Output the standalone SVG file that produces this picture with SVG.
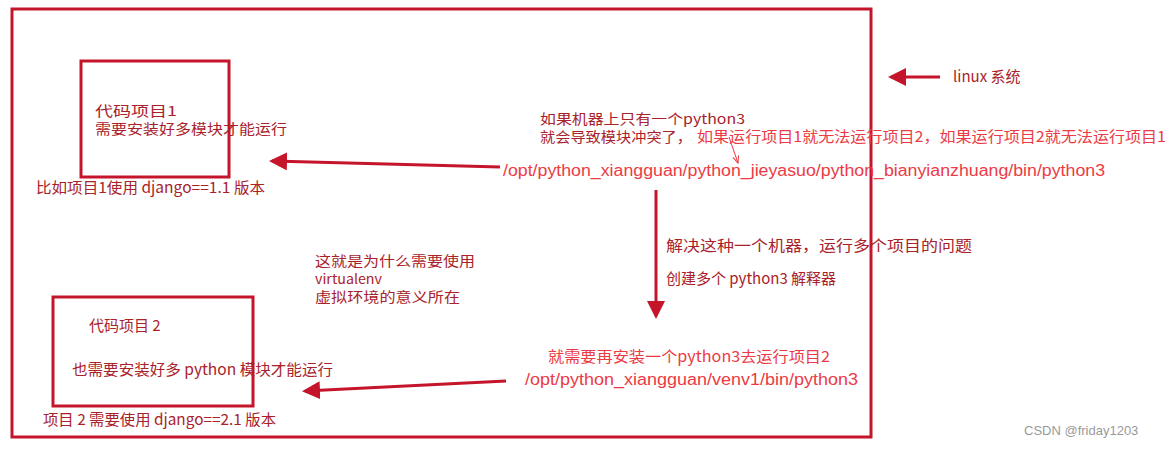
<svg xmlns="http://www.w3.org/2000/svg" width="1176" height="449" viewBox="0 0 1176 449">
<style>
.box{fill:none;stroke:#c4152b;stroke-width:3}
.t{font-family:"Noto Sans CJK SC","Liberation Sans",sans-serif;font-size:15px;fill:#a9222a}
.s{font-family:"Noto Sans CJK SC","Liberation Sans",sans-serif;font-size:13.5px;fill:#a9222a}
.r{font-family:"Liberation Sans","Noto Sans CJK SC",sans-serif;font-size:16px;fill:#ec3b44}
.rc{font-family:"Noto Sans CJK SC","Liberation Sans",sans-serif;font-size:15px;fill:#ec3b44}
.ln{stroke:#c4152b;stroke-width:3;fill:none}
.wm{font-family:"Liberation Sans",sans-serif;font-size:13px;fill:#9a9a9a}
</style>
<defs>
<marker id="ah" markerWidth="6" markerHeight="6" refX="5" refY="3" orient="auto" markerUnits="strokeWidth">
<path d="M0,0 L6,3 L0,6 Z" fill="#c4152b"/>
</marker>
<marker id="ahs" markerWidth="8" markerHeight="8" refX="7" refY="4" orient="auto" markerUnits="strokeWidth">
<path d="M0,1 L7,4 L0,7" fill="none" stroke="#ec3b44"/>
</marker>
</defs>
<rect x="0" y="0" width="1176" height="449" fill="#ffffff"/>
<g id="linux">
<rect class="box" x="12" y="9" width="859" height="428"/>
</g>
<g id="project1">
<rect class="box" x="81" y="61" width="148" height="116"/>
<text class="s" x="95" y="116" textLength="82" lengthAdjust="spacingAndGlyphs">代码项目1</text>
<text class="s" x="95" y="134" textLength="192" lengthAdjust="spacingAndGlyphs">需要安装好多模块才能运行</text>
<text class="t" x="36" y="193" textLength="229" lengthAdjust="spacingAndGlyphs">比如项目1使用 django==1.1 版本</text>
</g>
<g id="project2">
<rect class="box" x="53" y="297" width="200" height="109"/>
<text class="t" x="89" y="331">代码项目 2</text>
<text class="t" x="72" y="375" textLength="261" lengthAdjust="spacingAndGlyphs">也需要安装好多 python 模块才能运行</text>
<text class="t" x="43" y="425" textLength="233" lengthAdjust="spacingAndGlyphs">项目 2 需要使用 django==2.1 版本</text>
</g>
<g id="python3">
<text class="s" x="540" y="124" textLength="205" lengthAdjust="spacingAndGlyphs">如果机器上只有一个python3</text>
<text class="s" x="540" y="142" textLength="152" lengthAdjust="spacingAndGlyphs">就会导致模块冲突了，</text>
<text class="rc" x="697" y="142" textLength="469" lengthAdjust="spacingAndGlyphs">如果运行项目1就无法运行项目2，如果运行项目2就无法运行项目1</text>
<text class="r" x="503" y="176" textLength="602" lengthAdjust="spacingAndGlyphs">/opt/python_xiangguan/python_jieyasuo/python_bianyianzhuang/bin/python3</text>
</g>
<g id="venv1">
<text class="rc" x="548" y="362" textLength="282" lengthAdjust="spacingAndGlyphs">就需要再安装一个python3去运行项目2</text>
<text class="r" x="525" y="385" textLength="333" lengthAdjust="spacingAndGlyphs">/opt/python_xiangguan/venv1/bin/python3</text>
</g>
<g id="solve">
<text class="t" x="666" y="251" textLength="306" lengthAdjust="spacingAndGlyphs">解决这种一个机器，运行多个项目的问题</text>
<text class="t" x="666" y="284">创建多个 python3 解释器</text>
</g>
<g id="why">
<text class="s" x="315" y="266" textLength="160" lengthAdjust="spacingAndGlyphs">这就是为什么需要使用</text>
<text class="s" x="315" y="284" textLength="67" lengthAdjust="spacingAndGlyphs">virtualenv</text>
<text class="s" x="315" y="302" textLength="145" lengthAdjust="spacingAndGlyphs">虚拟环境的意义所在</text>
</g>
<g id="linux-label">
<text class="t" x="953" y="82">linux 系统</text>
</g>
<g id="connectors">
<line class="ln" x1="500" y1="167" x2="272" y2="161" marker-end="url(#ah)"/>
<line class="ln" x1="656" y1="190" x2="656" y2="316" marker-end="url(#ah)"/>
<line class="ln" x1="506" y1="381" x2="305" y2="391" marker-end="url(#ah)"/>
<line class="ln" x1="940" y1="77" x2="891" y2="77" marker-end="url(#ah)"/>
<line x1="729" y1="137" x2="738" y2="163" stroke="#ec3b44" stroke-width="1" marker-end="url(#ahs)"/>
</g>
<text class="wm" x="1024" y="435">CSDN @friday1203</text>
</svg>
